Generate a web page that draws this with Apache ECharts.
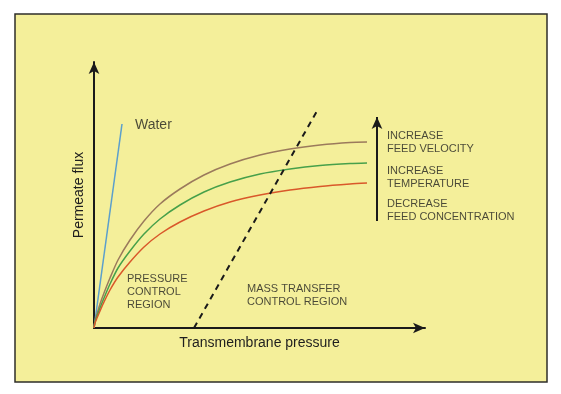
<!DOCTYPE html>
<html><head><meta charset="utf-8">
<script src="https://cdn.jsdelivr.net/npm/echarts@6/dist/echarts.min.js"></script>
<style>html,body{margin:0;padding:0;background:#fff}#c{width:561px;height:394px}</style>
</head><body><div id="c"></div>
<script>
// transmembrane pressure (arbitrary units) sampled along the curves
const pressure = [0, 1, 3, 6, 10, 16, 24, 36, 50, 66, 86, 110, 136, 166, 196, 226, 256, 273];
const fluxHighVelocity = [0, 7, 14, 24, 35, 50, 68, 88, 107, 124, 139, 153, 164, 173, 179, 183, 185.5, 186];
const fluxHighTemp = [0, 6, 12, 20, 30, 44, 60, 77, 94, 109, 123, 136, 146, 154, 159, 162.5, 164.5, 165];
const fluxLowConc = [0, 5, 10, 17, 26, 38, 51, 66, 81, 94, 106, 117, 126, 133, 138, 141.5, 144, 145];
const waterX = [0, 28];
const waterY = [0, 204];
const boundaryX = [100, 223];
const boundaryY = [0, 217];
const trendX = [283, 283];
const trendY = [107, 211];
const labels = [
  {text: 'Water', x: 41, y: 203, size: 14},
  {text: 'PRESSURE\nCONTROL\nREGION', x: 33, y: 36, size: 11},
  {text: 'MASS TRANSFER\nCONTROL REGION', x: 153, y: 33, size: 11},
  {text: 'INCREASE\nFEED VELOCITY', x: 293, y: 186, size: 11},
  {text: 'INCREASE\nTEMPERATURE', x: 293, y: 150.5, size: 11},
  {text: 'DECREASE\nFEED CONCENTRATION', x: 293, y: 118, size: 11}
];

const zip = (xs, ys) => xs.map((x, i) => [x, ys[i]]);
const FONT = '"Liberation Sans", Arial, sans-serif';
const chart = echarts.init(document.getElementById('c'), null, {renderer: 'canvas'});
const curve = (ys, color) => ({
  type: 'line', data: zip(pressure, ys), symbol: 'none', smooth: 0.25,
  lineStyle: {color: color, width: 1.5}, z: 3
});
chart.setOption({
  backgroundColor: '#ffffff',
  animation: false,
  graphic: [{
    type: 'rect', z: -100, silent: true,
    shape: {x: 15, y: 14, width: 532, height: 368},
    style: {fill: '#f4ef9a', stroke: '#2e2e2a', lineWidth: 1.5}
  }],
  grid: {left: 94, right: 136, top: 62, bottom: 66},
  xAxis: {
    type: 'value', min: 0, max: 331,
    name: 'Transmembrane pressure', nameLocation: 'middle', nameGap: 8,
    nameTextStyle: {fontFamily: FONT, fontSize: 14, color: '#1e1e1e'},
    axisLine: {onZero: false, symbol: ['none', 'arrow'], symbolSize: [8, 12], lineStyle: {color: '#1a1a1a', width: 2}},
    axisTick: {show: false}, axisLabel: {show: false}, splitLine: {show: false}
  },
  yAxis: {
    type: 'value', min: 0, max: 266,
    name: 'Permeate flux', nameLocation: 'middle', nameGap: 8, nameRotate: 90,
    nameTextStyle: {fontFamily: FONT, fontSize: 14, color: '#1e1e1e'},
    axisLine: {show: true, onZero: false, symbol: ['none', 'arrow'], symbolSize: [8, 12], lineStyle: {color: '#1a1a1a', width: 2}},
    axisTick: {show: false}, axisLabel: {show: false}, splitLine: {show: false}
  },
  series: [
    {type: 'line', data: zip(waterX, waterY), symbol: 'none', lineStyle: {color: '#5b9fcc', width: 1.5}, z: 3},
    curve(fluxHighVelocity, '#9b7a5c'),
    curve(fluxHighTemp, '#47a04a'),
    curve(fluxLowConc, '#d9582a'),
    {type: 'line', data: zip(boundaryX, boundaryY), symbol: 'none',
     lineStyle: {color: '#1a1a1a', width: 2, type: [6, 5]}, z: 4},
    {type: 'line', data: [], symbol: 'none',
     markLine: {silent: true, symbol: ['none', 'arrow'], symbolSize: [8, 12], label: {show: false},
       lineStyle: {color: '#1a1a1a', width: 2, type: 'solid'},
       data: [[{coord: [trendX[0], trendY[0]]}, {coord: [trendX[1], trendY[1]]}]]}},
    {type: 'scatter', symbolSize: 0, silent: true, z: 5,
     data: labels.map(l => ({value: [l.x, l.y],
       label: {show: true, position: 'right', distance: 0, formatter: l.text, align: 'left', verticalAlign: 'middle',
         fontFamily: FONT, fontSize: l.size, lineHeight: l.size === 14 ? 16 : 13, color: '#1e1e1e'}}))}
  ]
});
</script></body></html>
